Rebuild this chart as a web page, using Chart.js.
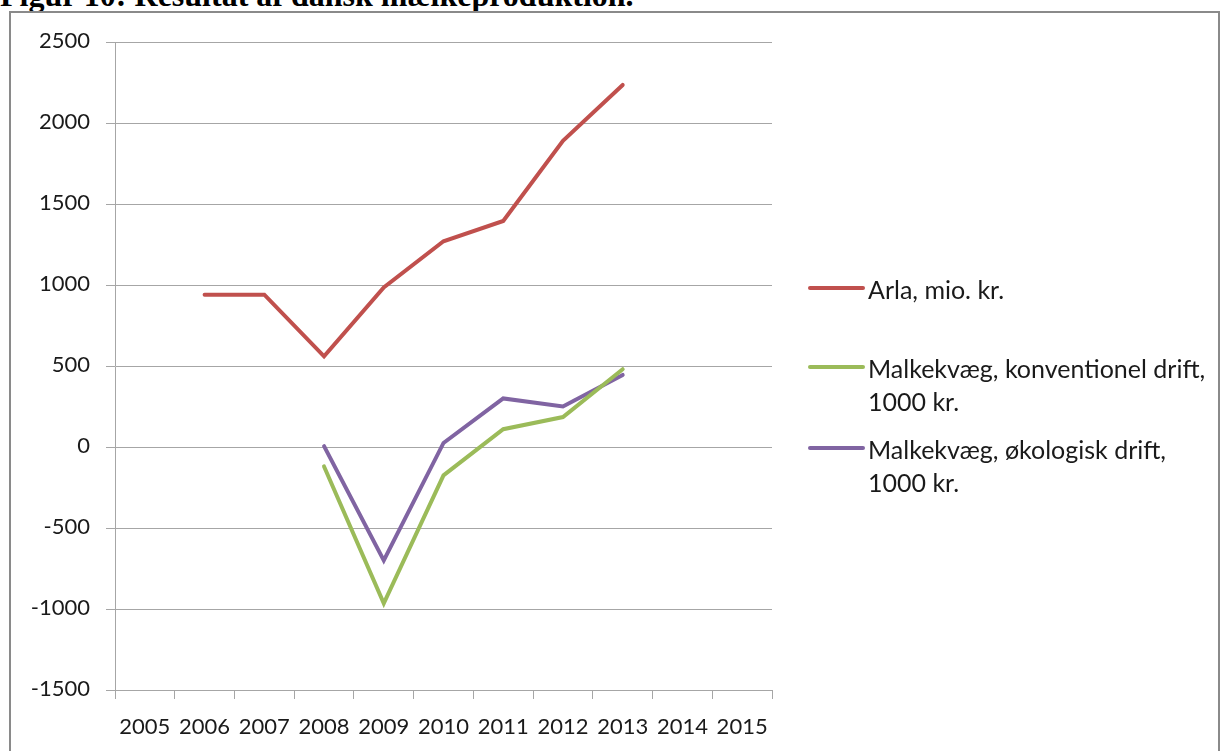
<!DOCTYPE html>
<html>
<head>
<meta charset="utf-8">
<script src="https://cdn.jsdelivr.net/npm/chart.js@4"></script>
<style>
  html, body { margin: 0; padding: 0; background: #fff; width: 1221px; height: 751px; overflow: hidden; position: relative; }
  #title { position: absolute; left: 0px; top: -21px; font: bold 32px 'Liberation Serif', 'Times New Roman', serif; line-height: 32px; color: #000; white-space: nowrap; }
  #frame { position: absolute; left: 9px; top: 11px; width: 1211px; height: 800px; border: 2px solid #8a8a8a; box-sizing: border-box; pointer-events: none; }
  #c { position: absolute; left: 0; top: 0; }
</style>
</head>
<body>
<div id="title">Figur 10: Resultat af dansk mælkeproduktion.</div>
<canvas id="c" width="1221" height="751"></canvas>
<div id="frame"></div>
<script>
const years = ['2005','2006','2007','2008','2009','2010','2011','2012','2013','2014','2015'];
const arla = [null, 940, 940, 560, 985, 1270, 1395, 1890, 2235, null, null];
const konventionel = [null, null, null, -120, -965, -175, 110, 185, 480, null, null];
const okologisk = [null, null, null, 5, -700, 25, 300, 250, 445, null, null];
const seriesLabels = [
  ['Arla, mio. kr.'],
  ['Malkekvæg, konventionel drift,', '1000 kr.'],
  ['Malkekvæg, økologisk drift,', '1000 kr.']
];
const yTicks = { min: -1500, max: 2500, step: 500 };

const colors = ['#C0504D', '#9BBB59', '#8064A2'];
const gridColor = '#a6a6a6';
const textColor = '#1a1a1a';
const font = { family: 'Lato, "Open Sans", sans-serif', size: 22 };
const legendFont = { family: 'Lato, "Open Sans", sans-serif', size: 25 };

const legendPlugin = {
  id: 'sideLegend',
  afterDraw(chart, args, opts) {
    const ctx = chart.ctx;
    ctx.save();
    chart.data.datasets.forEach((ds, i) => {
      const y = opts.ys[i];
      ctx.strokeStyle = ds.borderColor;
      ctx.lineWidth = 4;
      ctx.lineCap = 'round';
      ctx.beginPath();
      ctx.moveTo(opts.x, y);
      ctx.lineTo(opts.x + opts.lineLen, y);
      ctx.stroke();
      ctx.fillStyle = textColor;
      ctx.font = legendFont.size + 'px ' + legendFont.family;
      ctx.textBaseline = 'alphabetic';
      ctx.textAlign = 'left';
      seriesLabels[i].forEach((line, j) => {
        ctx.fillText(line, opts.x + opts.lineLen + 5, y + 10.5 + j * opts.lineHeight);
      });
    });
    ctx.restore();
  }
};

new Chart(document.getElementById('c'), {
  type: 'line',
  data: {
    labels: years,
    datasets: [
      { label: seriesLabels[0].join(' '), data: arla, borderColor: colors[0], backgroundColor: colors[0] },
      { label: seriesLabels[1].join(' '), data: konventionel, borderColor: colors[1], backgroundColor: colors[1] },
      { label: seriesLabels[2].join(' '), data: okologisk, borderColor: colors[2], backgroundColor: colors[2] }
    ]
  },
  options: {
    responsive: false,
    animation: false,
    devicePixelRatio: 1,
    layout: { padding: { left: 0, top: 42, right: 449, bottom: 0 } },
    elements: {
      point: { radius: 0, hoverRadius: 0 },
      line: { borderWidth: 4, tension: 0, borderCapStyle: 'round', borderJoinStyle: 'miter' }
    },
    plugins: {
      legend: { display: false },
      tooltip: { enabled: false },
      sideLegend: { x: 810, lineLen: 53, lineHeight: 33.5, ys: [288, 367, 448] }
    },
    scales: {
      x: {
        type: 'category',
        offset: true,
        grid: { offset: true, drawOnChartArea: false, color: gridColor, tickLength: 9 },
        border: { color: gridColor },
        ticks: { font: font, color: textColor, padding: 15, maxRotation: 0, autoSkip: false },
        afterFit: s => { s.height = 61; }
      },
      y: {
        min: yTicks.min,
        max: yTicks.max,
        ticks: { stepSize: yTicks.step, font: font, color: textColor, padding: 16, labelOffset: -1, callback: v => String(v) },
        grid: { color: gridColor, tickLength: 9 },
        border: { color: gridColor },
        afterFit: s => { s.width = 115; }
      }
    }
  },
  plugins: [legendPlugin]
});
</script>
</body>
</html>
